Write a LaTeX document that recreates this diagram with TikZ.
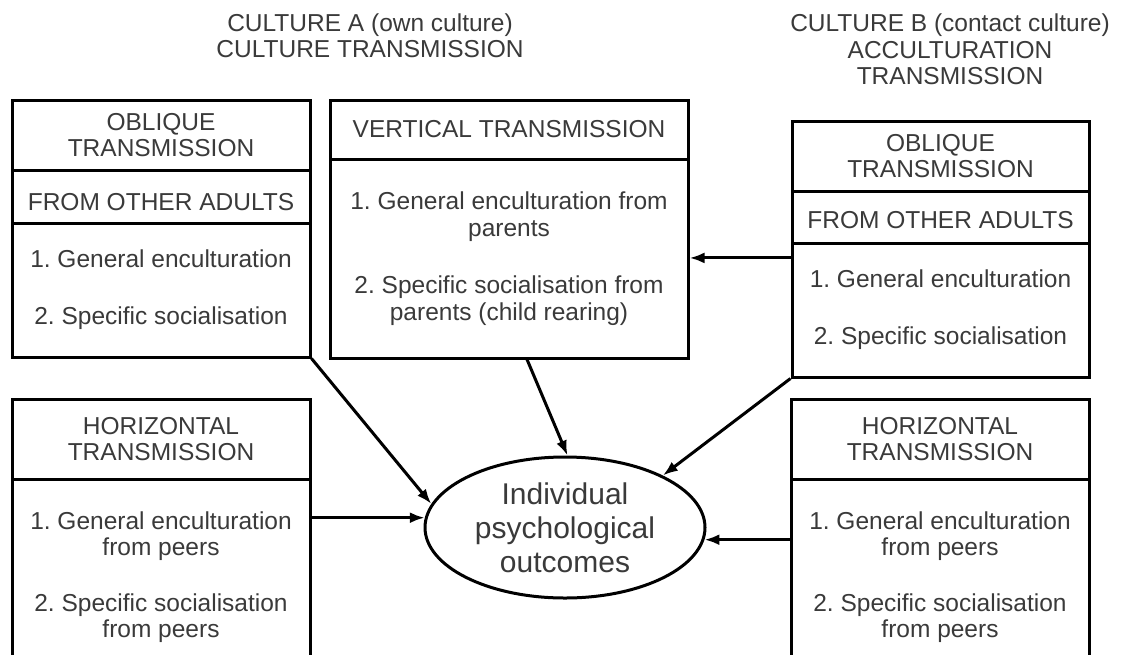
\documentclass[tikz,border=0pt]{standalone}
\usepackage{fontspec}
\setmainfont{Liberation Sans}
\usetikzlibrary{arrows.meta,calc,shapes.geometric}
\definecolor{txtgray}{RGB}{58,58,58}
\frenchspacing
\begin{document}
\begin{tikzpicture}[x=1pt,y=-1pt,
  part/.style={draw=black, line width=3pt, inner sep=0pt, align=center,
    text=txtgray, font=\fontsize{24.5}{26.5}\selectfont},
  head/.style={inner sep=0pt, align=center, text=txtgray,
    font=\fontsize{24.5}{26.5}\selectfont},
  outcome/.style={ellipse, draw=black, line width=3pt, inner sep=0pt,
    minimum width=280pt, minimum height=141pt, align=center, text=txtgray,
    font=\fontsize{30}{34}\selectfont},
  link/.style={line width=3pt, -{Latex[length=15pt,width=11pt]}}
]
\useasboundingbox (0,0) rectangle (1121,654);
\fill[white] (0,0) rectangle (1121,654);
\clip (0,0) rectangle (1121,654);

% column headings
\node[head] (hA) at (370,35.5) {CULTURE A (own culture)\\CULTURE TRANSMISSION};
\node[head] (hB) at (950,49.5) {CULTURE B (contact culture)\\ACCULTURATION\\TRANSMISSION};

% culture A: oblique transmission
\node[part, minimum width=298pt, minimum height=70pt] (lob1) at (161,135) {OBLIQUE\\TRANSMISSION};
\node[part, minimum width=298pt, minimum height=53pt, text height=27pt, text depth=0pt] (lob2) at (161,196.5) {FROM OTHER ADULTS};
\node[part, minimum width=298pt, minimum height=134pt] (lob3) at (161,290)
  {1. General enculturation\\[30.5pt]2. Specific socialisation};

% culture A: vertical transmission
\node[part, minimum width=358pt, minimum height=59pt] (vt1) at (509,129.5) {VERTICAL TRANSMISSION};
\node[part, minimum width=358pt, minimum height=199pt] (vt2) at (509,258.5)
  {1. General enculturation from\\parents\\[31pt]2. Specific socialisation from\\parents (child rearing)};

% culture B: oblique transmission
\node[part, minimum width=297pt, minimum height=70pt] (rob1) at (940.5,156) {OBLIQUE\\TRANSMISSION};
\node[part, minimum width=297pt, minimum height=52pt, text height=22pt, text depth=0pt] (rob2) at (940.5,217) {FROM OTHER ADULTS};
\node[part, minimum width=297pt, minimum height=134pt] (rob3) at (940.5,310)
  {1. General enculturation\\[30.5pt]2. Specific socialisation};

% horizontal transmission, both cultures
\node[part, minimum width=298pt, minimum height=80pt] (lh1) at (161,439) {HORIZONTAL\\TRANSMISSION};
\node[part, minimum width=298pt, minimum height=196pt] (lh2) at (161,577)
  {1. General enculturation\\from peers\\[29pt]2. Specific socialisation\\from peers};
\node[part, minimum width=298pt, minimum height=80pt] (rh1) at (940,439) {HORIZONTAL\\TRANSMISSION};
\node[part, minimum width=298pt, minimum height=196pt] (rh2) at (940,577)
  {1. General enculturation\\from peers\\[29pt]2. Specific socialisation\\from peers};

% outcome
\node[outcome] (ind) at (565,527.5) {Individual\\psychological\\outcomes};

% influences
\draw[link] (lob3.south east) -- (ind.170);
\draw[link] (lh2.east |- ind.176) -- (ind.176);
\draw[link] ($(vt2.south west)!0.55!(vt2.south east)$) -- (ind.88);
\draw[link] (rob3.south west) -- (ind.28);
\coordinate (rfeed) at ($(rob3.north west)!0.12!(rob3.south west)$);
\draw[link] (rfeed) -- (vt2.east |- rfeed);
\draw[link] (rh2.west |- ind.-5) -- (ind.-5);
\end{tikzpicture}
\end{document}
